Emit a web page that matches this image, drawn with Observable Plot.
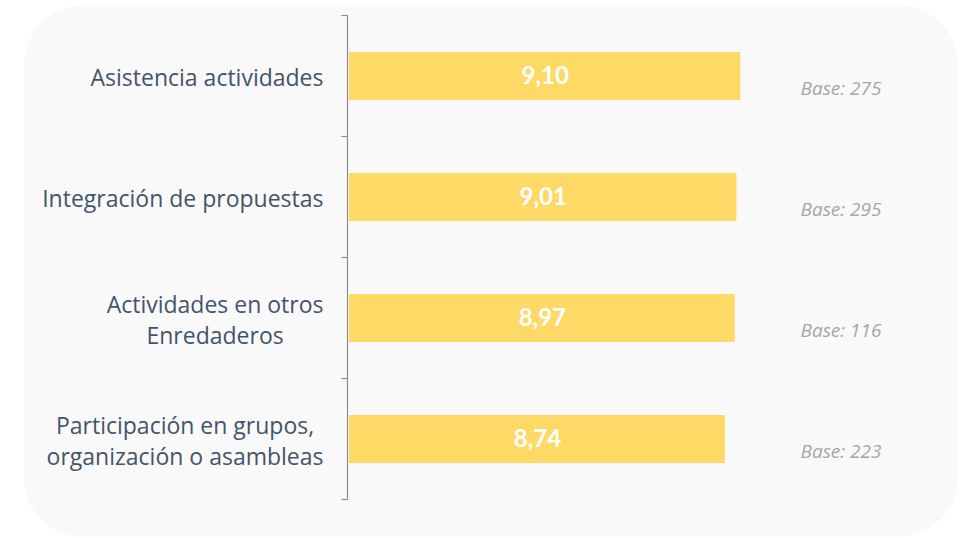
<!DOCTYPE html>
<html><head><meta charset="utf-8">
<script src="https://cdn.jsdelivr.net/npm/d3@7"></script>
<script src="https://cdn.jsdelivr.net/npm/@observablehq/plot@0.6"></script>
<style>
html,body{margin:0;padding:0;background:#fff;}
#wrap{position:relative;width:962px;height:538px;overflow:hidden;}
#panel{position:absolute;left:24px;top:5px;width:934px;height:532px;border-radius:60px;background:#f9f9f9;}
#chart{position:absolute;left:0;top:0;}
</style></head><body>
<div id="wrap"><div id="panel"></div><div id="chart"></div></div>
<script>
const categories = ["Asistencia actividades", "Integración de propuestas", "Actividades en otros\nEnredaderos", "Participación en grupos,\norganización o asambleas"];
const values = [9.10, 9.01, 8.97, 8.74];
const bases = [275, 295, 116, 223];

const data = categories.map((c, i) => ({cat: c, value: values[i], base: bases[i]}));
const fmt = v => v.toFixed(2).replace(".", ",");
const labelFont = "'Open Sans', 'Noto Sans', sans-serif";
const valueFont = "Lato, 'Open Sans', sans-serif";
const labelColor = "#44546a";

const axisMark = (index, scales, channels, dims) => {
  const y = scales.y, x = scales.x;
  const step = y.step(), bw = y.bandwidth();
  const x0 = x(0) - 1.5;
  const g = d3.create("svg:g").attr("stroke", "#8c8c8c").attr("stroke-width", 1.2).attr("fill", "none");
  const centers = categories.map(c => y(c) + bw / 2);
  const bounds = centers.map(c => c - step / 2).concat([centers[centers.length - 1] + step / 2]);
  g.append("line").attr("x1", x0).attr("x2", x0).attr("y1", bounds[0]).attr("y2", bounds[bounds.length - 1]);
  for (const b of bounds) g.append("line").attr("x1", x0 - 6).attr("x2", x0).attr("y1", b).attr("y2", b);
  return g.node();
};

const chart = Plot.plot({
  width: 962, height: 538,
  marginLeft: 349, marginRight: 183, marginTop: 16, marginBottom: 38,
  x: {domain: [0, 10], axis: null},
  y: {domain: categories, paddingInner: 0.6, paddingOuter: 0.3, axis: null},
  style: {background: "transparent", fontFamily: labelFont},
  marks: [
    Plot.barX(data, {y: "cat", x: "value", fill: "#ffd966"}),
    Plot.text(data, {y: "cat", x: d => d.value / 2, text: d => fmt(d.value), fill: "white", fontWeight: "bold", fontSize: 24, fontFamily: valueFont}),
    Plot.text(data, {y: "cat", frameAnchor: "right", textAnchor: "start", dx: 21, dy: 12, text: d => `Base: ${d.base}`, fill: "#a6a6a6", fontStyle: "italic", fontSize: 19}),
    Plot.text(data, {y: "cat", frameAnchor: "left", textAnchor: "end", dx: -26, text: "cat", fill: labelColor, fontSize: 23, lineHeight: 1.35}),
    axisMark
  ]
});
document.getElementById("chart").appendChild(chart);

// center the lines of multi-line category labels while keeping the block right-aligned
d3.select(chart).selectAll(`g[fill="${labelColor}"] text`).each(function() {
  const t = d3.select(this);
  if (this.querySelectorAll("tspan").length < 2) return;
  const b1 = this.getBBox();
  const r1 = b1.x + b1.width;
  t.attr("text-anchor", "middle");
  const b2 = this.getBBox();
  const r2 = b2.x + b2.width;
  const tr = t.attr("transform") || "";
  t.attr("transform", `${tr} translate(${r1 - r2},0)`);
});
</script>
</body></html>
